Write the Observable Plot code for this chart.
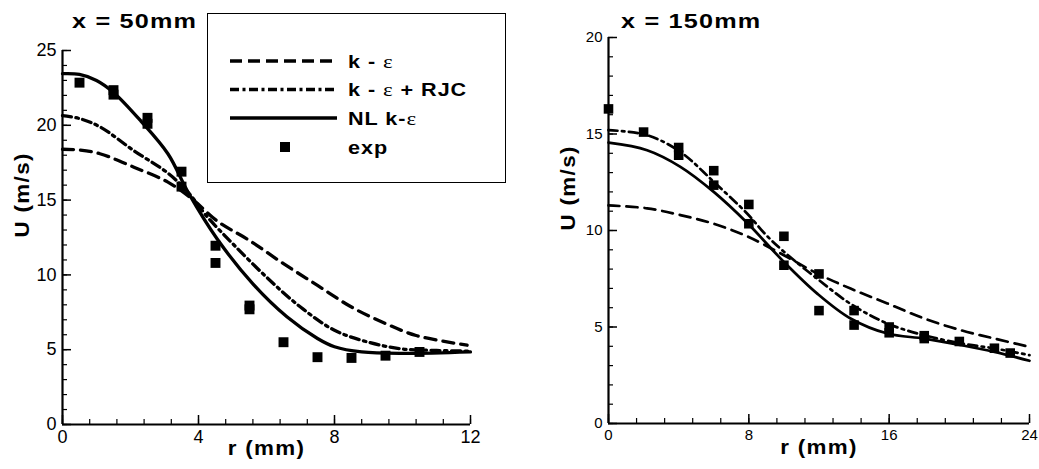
<!DOCTYPE html>
<html>
<head>
<meta charset="utf-8">
<script src="https://cdn.jsdelivr.net/npm/d3@7"></script>
<script src="https://cdn.jsdelivr.net/npm/@observablehq/plot@0.6"></script>
<style>
  body { margin: 0; background: #fff; }
  #wrap { position: relative; width: 1039px; height: 469px; overflow: hidden; font-family: "Liberation Sans", Arial, sans-serif; }
  .panel { position: absolute; top: 0; }
  .overlay { position: absolute; left: 0; top: 0; pointer-events: none; }
  svg g[aria-label="text"] text { letter-spacing: 1.2px; }
</style>
</head>
<body>
<div id="wrap"></div>
<script>
// ---------- data ----------
const seriesNames = ["k - ε", "k - ε + RJC", "NL k-ε", "exp"];
const panelTitles = ["x = 50mm", "x = 150mm"];
const xLabel = "r (mm)";
const yLabel = "U (m/s)";

// x = 50mm
const r50_ke   = [0, 0.5, 1.1, 2.1, 3.1, 3.8, 4.55, 5.5, 6.5, 7.5, 8.5, 9.5, 10.4, 11.9];
const u50_ke   = [18.4, 18.35, 18.1, 17.2, 16.2, 15.1, 13.6, 12.3, 10.75, 9.3, 7.85, 6.75, 5.95, 5.3];
const r50_rjc  = [0, 0.5, 1.1, 2.1, 3.1, 3.7, 4.25, 5.0, 6.0, 7.0, 8.0, 9.0, 10.0, 11.0, 12];
const u50_rjc  = [20.65, 20.45, 19.9, 18.3, 16.8, 15.5, 13.9, 12.1, 9.85, 7.85, 6.3, 5.5, 5.05, 4.95, 4.9];
const r50_nl   = [0, 0.5, 1.0, 1.5, 2.3, 3.1, 3.7, 4.55, 5.6, 6.6, 7.5, 8.0, 8.8, 10.0, 12];
const u50_nl   = [23.45, 23.4, 23.0, 22.2, 20.3, 18.1, 15.5, 12.4, 9.4, 7.2, 5.75, 5.2, 4.85, 4.75, 4.85];
const r50_exp  = [0.5, 1.5, 1.5, 2.5, 2.5, 3.5, 3.5, 4.5, 4.5, 5.5, 5.5, 6.5, 7.5, 8.5, 9.5, 10.5];
const u50_exp  = [22.85, 22.35, 22.05, 20.5, 20.1, 16.9, 15.9, 11.95, 10.8, 7.95, 7.7, 5.5, 4.5, 4.45, 4.6, 4.85];

// x = 150mm
const r150_ke  = [0, 2.2, 4.1, 6.0, 7.9, 10.0, 11.9, 13.8, 15.9, 18.0, 20.1, 22, 24];
const u150_ke  = [11.3, 11.15, 10.8, 10.35, 9.7, 8.72, 7.77, 6.99, 6.22, 5.44, 4.83, 4.4, 3.97];
const r150_rjc = [0, 2.2, 4.1, 6.0, 7.9, 9.0, 10.0, 11.9, 13.8, 15.9, 18.0, 20.1, 22, 24];
const u150_rjc = [15.2, 14.94, 14.07, 12.52, 10.88, 9.75, 8.9, 7.5, 6.2, 5.18, 4.57, 4.15, 3.89, 3.54];
const r150_nl  = [0, 2.2, 4.1, 6.0, 7.9, 10.0, 11.9, 13.8, 15.9, 18.0, 20.1, 22, 24];
const u150_nl  = [14.55, 14.16, 13.3, 12.0, 10.4, 8.37, 6.73, 5.44, 4.66, 4.4, 4.06, 3.71, 3.25];
const r150_exp = [0, 2, 4, 4, 6, 6, 8, 8, 10, 10, 12, 12, 14, 14, 16, 16, 18, 18, 20, 22, 22.9];
const u150_exp = [16.3, 15.1, 14.3, 13.9, 13.1, 12.35, 11.35, 10.35, 9.7, 8.2, 7.75, 5.85, 5.85, 5.1, 5.0, 4.7, 4.55, 4.4, 4.25, 3.9, 3.65];

// ticks
const x50Ticks = [0, 4, 8, 12];
const y50Ticks = [0, 5, 10, 15, 20, 25];
const x150Ticks = [0, 8, 16, 24];
const y150Ticks = [0, 5, 10, 15, 20];

// ---------- helpers ----------
const zip = (rs, us) => rs.map((r, i) => ({r, u: us[i]}));
const dashes = ["11,7", "9,4.5,2.5,4.5", null];
const legendDashes = ["12,6", "9,3.5,3,3.5", null];

function makePanel(cfg) {
  const pw = cfg.width - cfg.marginLeft - cfg.marginRight;
  const ph = cfg.height - cfg.marginTop - cfg.marginBottom;
  const marks = [
    Plot.ruleY(cfg.yMinor, {insetRight: pw - 5, strokeWidth: 1.2}),
    Plot.ruleY(cfg.yTicks, {insetRight: pw - 9, strokeWidth: 1.5}),
    Plot.ruleX(cfg.xMinor, {insetTop: ph - 5, strokeWidth: 1.2}),
    Plot.ruleX(cfg.xTicks, {insetTop: ph - 9, strokeWidth: 1.5}),
    Plot.ruleX([cfg.xTicks[0]], {strokeWidth: 2.2}),
    Plot.ruleY([cfg.yTicks[0]], {strokeWidth: 2.2}),
    Plot.axisY(cfg.yTicks, {tickSize: 0, tickPadding: 6, fontSize: cfg.tickFont, label: null}),
    Plot.axisX(cfg.xTicks, {tickSize: 0, tickPadding: 6, fontSize: cfg.tickFont, label: null}),
    Plot.text([yLabel], {frameAnchor: "left", dx: -40, rotate: -90, fontSize: 20, fontWeight: "bold"}),
    Plot.text([xLabel], {frameAnchor: "bottom", dy: 30, fontSize: 20, fontWeight: "bold"})
  ];
  cfg.lines.forEach((data, i) => {
    marks.push(Plot.line(data, {x: "r", y: "u", curve: "catmull-rom", stroke: "black",
      strokeWidth: cfg.lw, strokeDasharray: dashes[i]}));
  });
  marks.push(Plot.dot(cfg.exp, {x: "r", y: "u", symbol: "square", fill: "black", stroke: "none", r: cfg.dotR}));
  const svg = Plot.plot({
    width: cfg.width, height: cfg.height,
    marginLeft: cfg.marginLeft, marginRight: cfg.marginRight,
    marginTop: cfg.marginTop, marginBottom: cfg.marginBottom,
    x: {domain: [cfg.xTicks[0], cfg.xTicks[cfg.xTicks.length - 1]]},
    y: {domain: [cfg.yTicks[0], cfg.yTicks[cfg.yTicks.length - 1]]},
    style: {fontFamily: '"Liberation Sans", Arial, sans-serif', background: "transparent", color: "#000", overflow: "visible"},
    marks
  });
  // widen the bold axis titles a little, like the reference
  d3.select(svg).selectAll('g[aria-label="text"] text').each(function() {
    const tr = this.getAttribute("transform") || "";
    this.setAttribute("transform", tr + " scale(1.12,1)");
  });
  return svg;
}

const wrap = document.getElementById("wrap");

const left = makePanel({
  width: 520, height: 469, marginLeft: 62, marginRight: 50, marginTop: 50, marginBottom: 45,
  xTicks: x50Ticks, yTicks: y50Ticks,
  xMinor: d3.range(0, 12.001, 0.8), yMinor: d3.range(0, 25.001, 1),
  tickFont: 18, lw: 3.3, dotR: 5.6,
  lines: [zip(r50_ke, u50_ke), zip(r50_rjc, u50_rjc), zip(r50_nl, u50_nl)],
  exp: zip(r50_exp, u50_exp)
});
left.classList.add("panel");
left.style.left = "0px";
wrap.appendChild(left);

const right = makePanel({
  width: 519, height: 469, marginLeft: 88, marginRight: 10, marginTop: 37, marginBottom: 46,
  xTicks: x150Ticks, yTicks: y150Ticks,
  xMinor: d3.range(0, 24.001, 1.6), yMinor: d3.range(0, 20.001, 1),
  tickFont: 15, lw: 2.7, dotR: 5.4,
  lines: [zip(r150_ke, u150_ke), zip(r150_rjc, u150_rjc), zip(r150_nl, u150_nl)],
  exp: zip(r150_exp, u150_exp)
});
right.classList.add("panel");
right.style.left = "520px";
wrap.appendChild(right);

// ---------- overlay: titles and legend ----------
const ov = d3.select(wrap).append("svg").attr("class", "overlay")
  .attr("width", 1039).attr("height", 469)
  .style("font-family", '"Liberation Sans", Arial, sans-serif');

ov.append("text").attr("transform", "translate(72,28) scale(1.2,1)").attr("font-size", 21).attr("font-weight", "bold")
  .attr("letter-spacing", 1).text(panelTitles[0]);
ov.append("text").attr("transform", "translate(621,28) scale(1.2,1)").attr("font-size", 21).attr("font-weight", "bold")
  .attr("letter-spacing", 1).text(panelTitles[1]);

const lg = ov.append("g");
lg.append("rect").attr("x", 207.5).attr("y", 13.5).attr("width", 298).attr("height", 169)
  .attr("fill", "white").attr("stroke", "black").attr("stroke-width", 1);
const rowY = [61, 89.5, 118, 147];
seriesNames.forEach((name, i) => {
  const y = rowY[i];
  if (i < 3) {
    lg.append("line").attr("x1", 230).attr("x2", 337).attr("y1", y).attr("y2", y)
      .attr("stroke", "black").attr("stroke-width", 3.6)
      .attr("stroke-dasharray", legendDashes[i]);
  } else {
    lg.append("rect").attr("x", 280).attr("y", y - 5).attr("width", 10).attr("height", 10).attr("fill", "black");
  }
  const t = lg.append("text").attr("transform", `translate(348,${y + 6.5}) scale(1.2,1)`).attr("font-size", 18)
    .attr("font-weight", "bold").attr("letter-spacing", 0.8);
  name.split(/(ε)/).forEach(part => {
    if (!part) return;
    const ts = t.append("tspan").text(part);
    if (part === "ε") ts.attr("font-family", '"Liberation Serif", serif').attr("font-weight", "normal").attr("font-size", 19);
  });
});
</script>
</body>
</html>
